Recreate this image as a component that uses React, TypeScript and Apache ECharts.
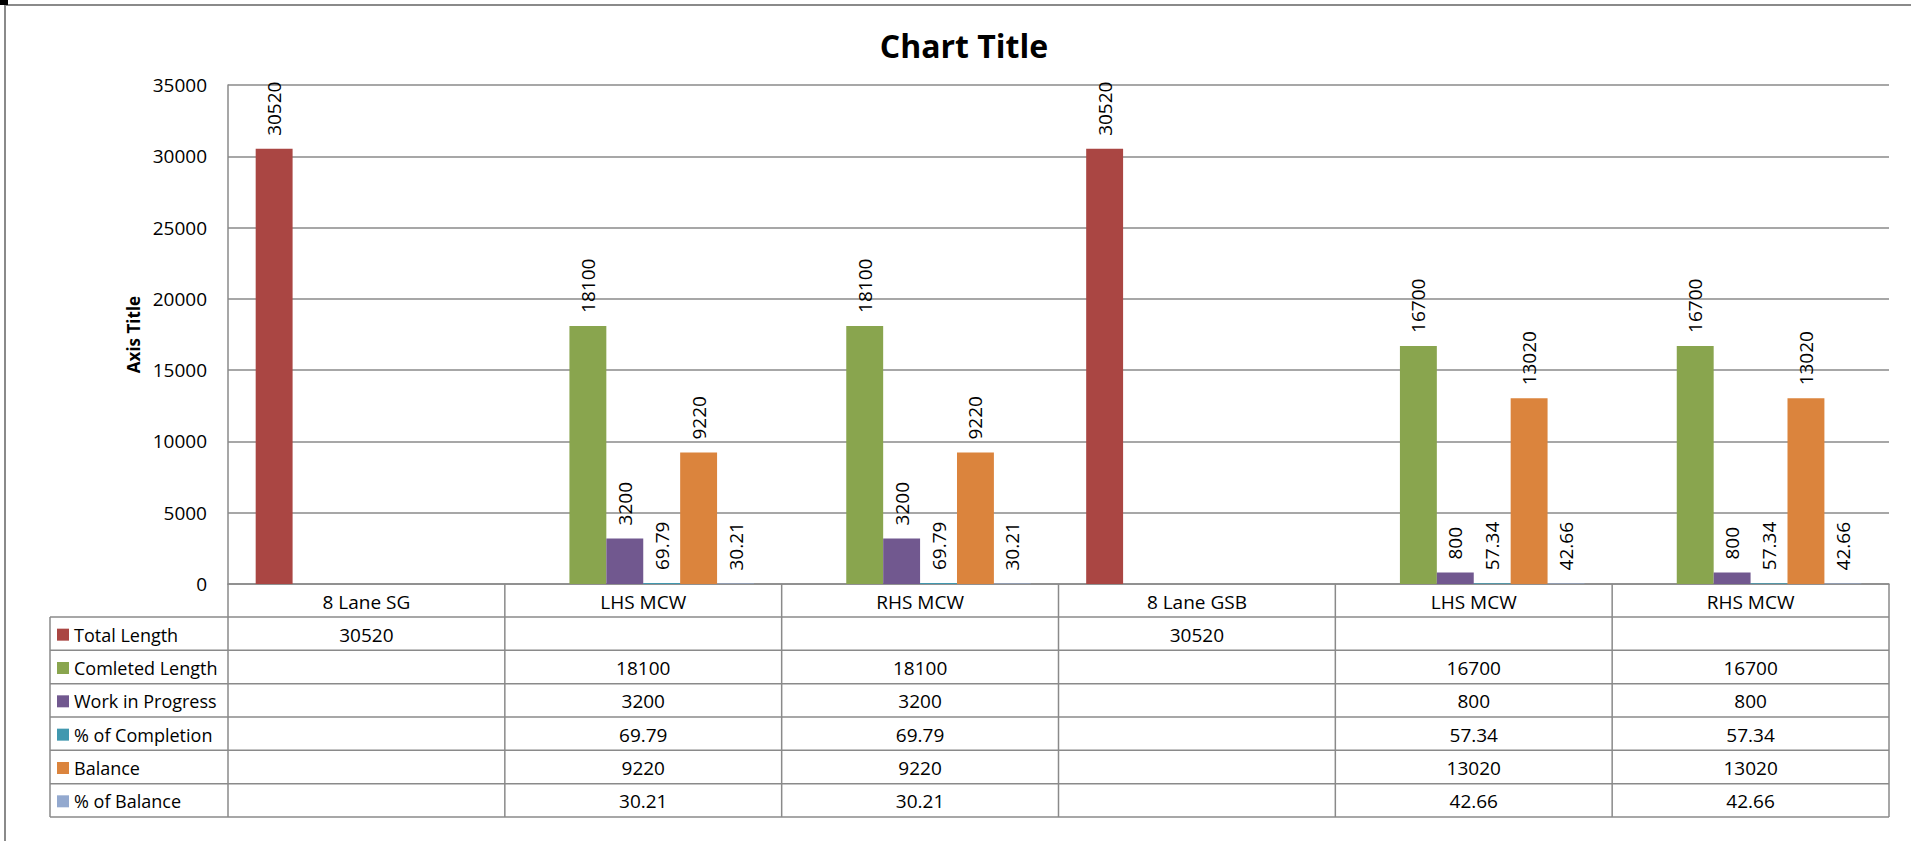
import React, { useEffect, useRef } from "react";
import * as echarts from "echarts";

const categories = ["8 Lane SG", "LHS MCW", "RHS MCW", "8 Lane GSB", "LHS MCW", "RHS MCW"];
const seriesNames = ["Total Length", "Comleted Length", "Work in Progress", "% of Completion", "Balance", "% of Balance"];
const totalLength = [30520, null, null, 30520, null, null];
const completedLength = [null, 18100, 18100, null, 16700, 16700];
const workInProgress = [null, 3200, 3200, null, 800, 800];
const pctCompletion = [null, 69.79, 69.79, null, 57.34, 57.34];
const balance = [null, 9220, 9220, null, 13020, 13020];
const pctBalance = [null, 30.21, 30.21, null, 42.66, 42.66];
const yTicks = [0, 5000, 10000, 15000, 20000, 25000, 30000, 35000];

const seriesValues = [totalLength, completedLength, workInProgress, pctCompletion, balance, pctBalance];
const colors = ["#AA4643", "#89A54E", "#71588F", "#4198AF", "#DB843D", "#93A9CF"];

const FONT = '"Open Sans", "Noto Sans", sans-serif';
const FS = 19;
const FS_LEGEND = 18;
const W = 1911;
const H = 841;
const plotLeft = 228;
const plotRight = 1889;
const plotTop = 85;
const axisY = 584;
const headerBottom = 617;
const rowH = 33.33;
const tableLeft = 50;
const lineColor = "#8a8a8a";

function buildGraphic() {
  const els: any[] = [];
  const n = categories.length;
  const catW = (plotRight - plotLeft) / n;
  const tableBottom = headerBottom + rowH * seriesNames.length;
  const line = (x1: number, y1: number, x2: number, y2: number, w = 1.5, c = lineColor) =>
    els.push({ type: "line", silent: true, shape: { x1, y1, x2, y2 }, style: { stroke: c, lineWidth: w } });

  // outer chart border (left and top visible)
  line(5, 5, W, 5, 2);
  line(5, 5, 5, H, 2);
  els.push({ type: "rect", silent: true, shape: { x: 0, y: 0, width: 8, height: 5 }, style: { fill: "#000" } });

  // table horizontal lines
  for (let r = 0; r <= seriesNames.length; r++) {
    const y = headerBottom + r * rowH;
    line(tableLeft, y, plotRight, y);
  }
  // table vertical lines
  line(tableLeft, headerBottom, tableLeft, tableBottom);
  for (let c = 0; c <= n; c++) {
    const x = plotLeft + c * catW;
    line(x, axisY, x, tableBottom);
  }
  // header texts
  categories.forEach((cat, i) => {
    els.push({
      type: "text", silent: true, x: plotLeft + (i + 0.5) * catW, y: (axisY + headerBottom) / 2 + 1,
      style: { text: cat, fill: "#000", fontSize: FS, fontFamily: FONT, align: "center", verticalAlign: "middle" },
    });
  });
  // rows
  seriesNames.forEach((name, r) => {
    const cy = headerBottom + (r + 0.5) * rowH + 1;
    els.push({ type: "rect", silent: true, shape: { x: 57, y: cy - 6, width: 12, height: 12 }, style: { fill: colors[r] } });
    els.push({
      type: "text", silent: true, x: 74, y: cy,
      style: { text: name, fill: "#000", fontSize: FS_LEGEND, fontFamily: FONT, align: "left", verticalAlign: "middle" },
    });
    seriesValues[r].forEach((v, i) => {
      if (v == null) return;
      els.push({
        type: "text", silent: true, x: plotLeft + (i + 0.5) * catW, y: cy,
        style: { text: String(v), fill: "#000", fontSize: FS, fontFamily: FONT, align: "center", verticalAlign: "middle" },
      });
    });
  });
  return els;
}

export default function App() {
  const ref = useRef<HTMLDivElement>(null);
  useEffect(() => {
    document.body.style.margin = "0";
    document.body.style.overflow = "hidden";
    const chart = echarts.init(ref.current!, null, { renderer: "svg" });
    chart.setOption({
      animation: false,
      backgroundColor: "#fff",
      textStyle: { fontFamily: FONT },
      title: {
        text: "Chart Title",
        left: 959,
        textAlign: "center",
        top: 24,
        textStyle: { fontSize: 32, fontWeight: "bold", color: "#000", fontFamily: FONT },
      },
      grid: { left: plotLeft, right: W - plotRight, top: plotTop, bottom: H - axisY, containLabel: false },
      xAxis: {
        type: "category",
        data: categories,
        axisLine: { show: true, lineStyle: { color: lineColor, width: 1.5 } },
        axisTick: { show: false },
        axisLabel: { show: false },
        splitLine: { show: false },
      },
      yAxis: {
        type: "value",
        min: yTicks[0],
        max: yTicks[yTicks.length - 1],
        interval: yTicks[1] - yTicks[0],
        name: "Axis Title",
        nameLocation: "middle",
        nameGap: 82,
        nameTextStyle: { fontSize: 17, fontWeight: "bold", color: "#000", fontFamily: FONT },
        axisLine: { show: true, lineStyle: { color: lineColor, width: 1.5 } },
        axisTick: { show: false },
        axisLabel: { fontSize: FS, color: "#000", margin: 21, fontFamily: FONT, formatter: (v: number) => String(v) },
        splitLine: { show: true, lineStyle: { color: lineColor, width: 1.5 } },
      },
      series: seriesNames.map((name, i) => ({
        name,
        type: "bar",
        data: seriesValues[i],
        barGap: "0%",
        barCategoryGap: "20%",
        itemStyle: { color: colors[i] },
        label: {
          show: true,
          position: "top",
          rotate: 90,
          align: "left",
          verticalAlign: "middle",
          distance: 13,
          fontSize: FS,
          color: "#000",
          fontFamily: FONT,
        },
      })),
      graphic: { elements: buildGraphic() },
    });
    return () => chart.dispose();
  }, []);
  return <div ref={ref} style={{ width: W, height: H }} />;
}
